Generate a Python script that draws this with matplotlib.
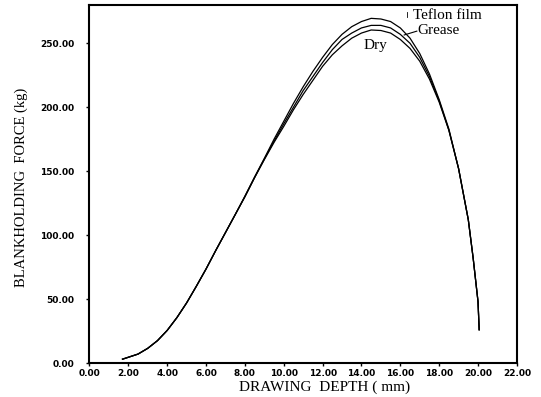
import matplotlib.pyplot as plt

# drawing depth (mm)
depth = [1.7, 2.0, 2.5, 3.0, 3.5, 4.0, 4.5, 5.0, 5.5, 6.0, 6.5, 7.0, 7.5,
         8.0, 8.5, 9.0, 9.5, 10.0, 10.5, 11.0, 11.5, 12.0, 12.5, 13.0,
         13.5, 14.0, 14.5, 15.0, 15.5, 16.0, 16.5, 17.0, 17.5, 18.0,
         18.5, 19.0, 19.5, 19.75, 20.0, 20.06]

# blankholding force (kg)
dry = [3, 4.5, 7, 11.5, 17.5, 25.5, 35.5, 47, 60, 73.5, 88, 102, 116,
       130, 145, 159, 172.5, 185, 198, 210, 221, 232, 241, 248,
       254, 258, 260.4, 260, 258, 253, 246, 236, 222, 204,
       182, 152, 112, 82, 48, 26]
grease = [3, 4.5, 7, 11.5, 17.5, 25.5, 35.5, 47, 60, 73.5, 88, 102, 116,
          130, 145, 159.5, 173.5, 187, 200, 213, 224, 235, 245, 253,
          258, 262, 264, 264, 262, 257, 250, 239, 224, 205,
          182, 152, 112, 82, 48, 26]
teflon = [3, 4.5, 7, 11.5, 17.5, 25.5, 35.5, 47, 60, 73.5, 88, 102, 116,
          130.5, 145.5, 160, 175, 189, 203, 216, 228, 239, 249, 257,
          263, 267, 269.5, 269, 267, 262, 254, 242, 226, 206,
          183, 152, 112, 82, 48, 26]

xticks = [0, 2, 4, 6, 8, 10, 12, 14, 16, 18, 20, 22]
yticks = [0, 50, 100, 150, 200, 250]

fig = plt.figure(figsize=(5.41, 3.97), dpi=100)
ax = fig.add_axes([0.1654, 0.0856, 0.790, 0.902])

for ys in (dry, grease, teflon):
    ax.plot(depth, ys, color='black', linewidth=0.9)

ax.set_xlim(0, 22)
ax.set_ylim(0, 280)
ax.set_xticks(xticks)
ax.set_yticks(yticks)
ax.set_xticklabels([f"{v:.2f}" for v in xticks], fontsize=6.5, fontweight='bold')
ax.set_yticklabels([f"{v:.2f}" for v in yticks], fontsize=6.5, fontweight='bold')
ax.tick_params(axis='x', direction='out', length=2, width=1, pad=2)
ax.tick_params(axis='y', direction='out', length=2, width=1, pad=9)
for s in ax.spines.values():
    s.set_linewidth(1.5)

serif = ['Liberation Serif', 'DejaVu Serif']
fig.text(325 / 541, 1 - 387 / 397, "DRAWING  DEPTH ( mm)", family=serif,
         fontsize=11, ha='center', va='center')
fig.text(21 / 541, 1 - 187 / 397, "BLANKHOLDING  FORCE (kg)", family=serif,
         fontsize=10.5, ha='center', va='center', rotation=90)

# curve labels
ax.text(16.66, 272, "Teflon film", family=serif, fontsize=11, va='center')
ax.plot([16.35, 16.35], [270.5, 274.5], color='black', linewidth=0.6)
ax.text(16.9, 260, "Grease", family=serif, fontsize=11, va='center')
ax.plot([16.2, 16.85], [256.5, 259.5], color='black', linewidth=0.8)
ax.text(14.09, 248.5, "Dry", family=serif, fontsize=11, va='center')

fig.savefig("out.png", dpi=100)
